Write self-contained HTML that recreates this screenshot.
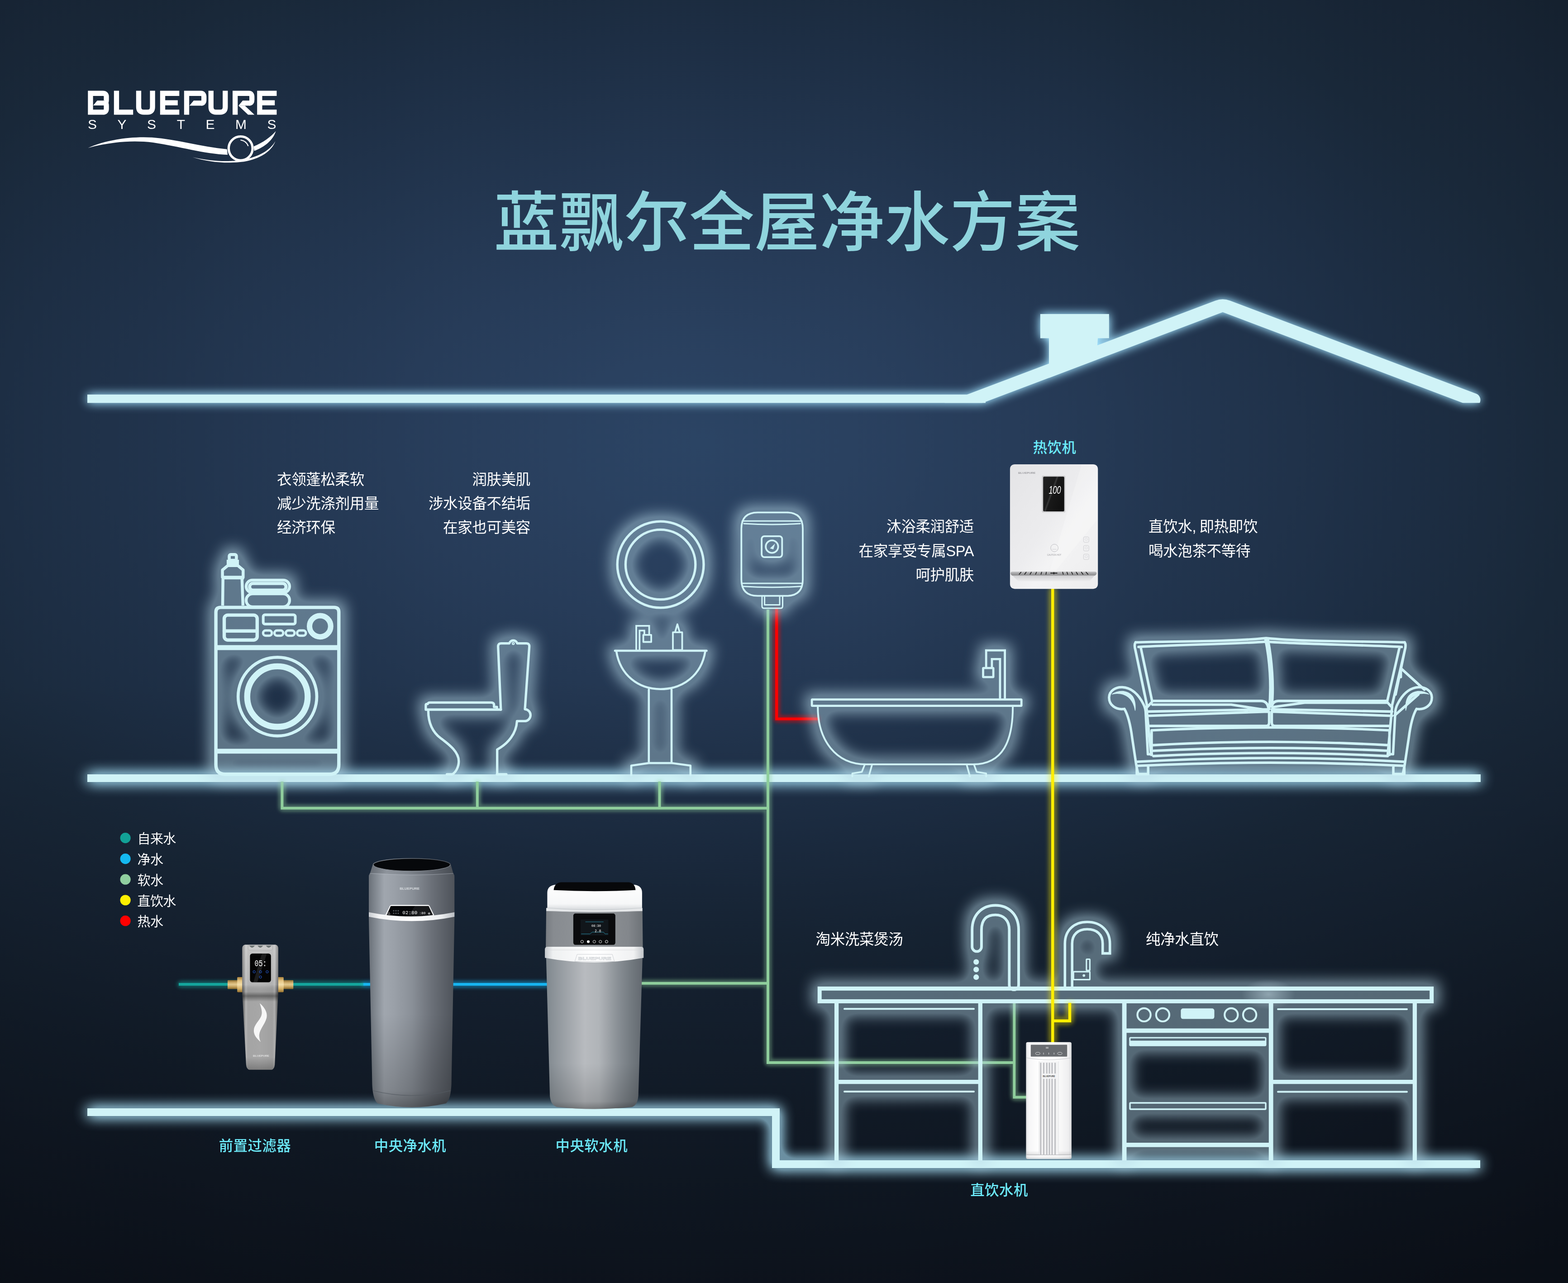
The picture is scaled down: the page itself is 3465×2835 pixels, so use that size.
<!DOCTYPE html>
<html lang="zh-CN">
<head>
<meta charset="utf-8">
<title>蓝飘尔全屋净水方案</title>
<style>
html,body{margin:0;padding:0;background:#101824;}
body{width:3465px;height:2835px;overflow:hidden;position:relative;font-family:"Liberation Sans","Noto Sans CJK SC",sans-serif;}
#bg{position:absolute;left:0;top:0;width:3465px;height:2835px;
 background:
  linear-gradient(to bottom, rgba(8,12,20,0) 0px, rgba(8,12,20,0) 1500px, rgba(8,12,20,0.30) 2300px, rgba(8,12,20,0.42) 2835px),
  radial-gradient(ellipse 3630px 2090px at 1550px 980px, #2b4464 0%, #2a4160 9%, #273c59 19%, #1d2e44 43%, #192839 54%, #172434 63%, #15212f 70%, #0f1620 91%, #0c1119 100%);}
svg.art{position:absolute;left:0;top:0;width:3465px;height:2835px;}
.t{position:absolute;white-space:nowrap;color:#fff;font-size:32.5px;letter-spacing:-0.35px;line-height:40px;height:40px;font-weight:400;margin:0;}
.r{text-align:right;}
.n{font-size:31.4px;letter-spacing:0.5px;color:#6ceaf9;font-weight:500;}
.lg{font-size:29px;letter-spacing:-0.6px;}
#title{position:absolute;left:1091px;top:394px;margin:0;font-size:144px;line-height:200px;height:200px;font-weight:500;color:#8fd4dd;white-space:nowrap;letter-spacing:0px;}
#sys{position:absolute;left:194px;top:257.5px;font-size:29px;line-height:34px;color:#fff;letter-spacing:44.3px;white-space:nowrap;transform-origin:0 0;transform:scaleX(1.03);}
.cm{display:inline-block;width:16px;text-align:left;}
</style>
</head>
<body>
<div id="bg"></div>
<svg class="art" width="3465" height="2835" viewBox="0 0 3465 2835">
<defs>
<filter id="gS" filterUnits="userSpaceOnUse" x="120" y="1640" width="3220" height="160" color-interpolation-filters="sRGB"><feFlood flood-color="#a4def5" result="c"/><feGaussianBlur in="SourceAlpha" stdDeviation="15.5" result="a0"/><feComponentTransfer in="a0" result="b0"><feFuncA type="table" tableValues="0 0.6 0.6 0.6"/></feComponentTransfer><feComposite in="c" in2="b0" operator="in" result="g0"/><feMerge><feMergeNode in="g0"/><feMergeNode in="SourceGraphic"/></feMerge></filter>
<filter id="gR" filterUnits="userSpaceOnUse" x="140" y="610" width="3190" height="340" color-interpolation-filters="sRGB"><feFlood flood-color="#9cdaf6" result="c"/><feGaussianBlur in="SourceAlpha" stdDeviation="11" result="a0"/><feComponentTransfer in="a0" result="b0"><feFuncA type="linear" slope="1.25"/></feComponentTransfer><feComposite in="c" in2="b0" operator="in" result="g0"/><feMerge><feMergeNode in="g0"/><feMergeNode in="SourceGraphic"/></feMerge></filter>
<filter id="gB" filterUnits="userSpaceOnUse" x="120" y="2380" width="3220" height="270" color-interpolation-filters="sRGB"><feFlood flood-color="#a8e0f6" result="c"/><feGaussianBlur in="SourceAlpha" stdDeviation="15.5" result="a0"/><feComponentTransfer in="a0" result="b0"><feFuncA type="table" tableValues="0 0.6 0.6 0.6"/></feComponentTransfer><feComposite in="c" in2="b0" operator="in" result="g0"/><feMerge><feMergeNode in="g0"/><feMergeNode in="SourceGraphic"/></feMerge></filter>
<filter id="gI" filterUnits="userSpaceOnUse" x="380" y="1070" width="2880" height="1590" color-interpolation-filters="sRGB"><feFlood flood-color="#b5d6e5" result="c"/><feMorphology in="SourceAlpha" operator="dilate" radius="11" result="m"/><feGaussianBlur in="m" stdDeviation="16" result="a"/><feComponentTransfer in="a" result="b"><feFuncA type="linear" slope="1.7"/></feComponentTransfer><feComponentTransfer in="b" result="o"><feFuncA type="linear" slope="0.42"/></feComponentTransfer><feComposite in="c" in2="o" operator="in" result="g"/><feMerge><feMergeNode in="g"/><feMergeNode in="SourceGraphic"/></feMerge></filter>
<filter id="gP" filterUnits="userSpaceOnUse" x="560" y="1290" width="1780" height="1200" color-interpolation-filters="sRGB"><feFlood flood-color="#8fce9c" result="c"/><feGaussianBlur in="SourceAlpha" stdDeviation="5" result="a0"/><feComponentTransfer in="a0" result="b0"><feFuncA type="linear" slope="4"/></feComponentTransfer><feGaussianBlur in="b0" stdDeviation="2.5" result="p0"/><feComponentTransfer in="p0" result="o0"><feFuncA type="linear" slope="0.38"/></feComponentTransfer><feComposite in="c" in2="o0" operator="in" result="g0"/><feMerge><feMergeNode in="g0"/><feMergeNode in="SourceGraphic"/></feMerge></filter>
<filter id="gPt" filterUnits="userSpaceOnUse" x="330" y="2120" width="540" height="110" color-interpolation-filters="sRGB"><feFlood flood-color="#14a59c" result="c"/><feGaussianBlur in="SourceAlpha" stdDeviation="5" result="a0"/><feComponentTransfer in="a0" result="b0"><feFuncA type="linear" slope="4"/></feComponentTransfer><feGaussianBlur in="b0" stdDeviation="2.5" result="p0"/><feComponentTransfer in="p0" result="o0"><feFuncA type="linear" slope="0.42"/></feComponentTransfer><feComposite in="c" in2="o0" operator="in" result="g0"/><feMerge><feMergeNode in="g0"/><feMergeNode in="SourceGraphic"/></feMerge></filter>
<filter id="gPb" filterUnits="userSpaceOnUse" x="740" y="2120" width="540" height="110" color-interpolation-filters="sRGB"><feFlood flood-color="#17b4f0" result="c"/><feGaussianBlur in="SourceAlpha" stdDeviation="5" result="a0"/><feComponentTransfer in="a0" result="b0"><feFuncA type="linear" slope="4"/></feComponentTransfer><feGaussianBlur in="b0" stdDeviation="2.5" result="p0"/><feComponentTransfer in="p0" result="o0"><feFuncA type="linear" slope="0.42"/></feComponentTransfer><feComposite in="c" in2="o0" operator="in" result="g0"/><feMerge><feMergeNode in="g0"/><feMergeNode in="SourceGraphic"/></feMerge></filter>
<filter id="gPy" filterUnits="userSpaceOnUse" x="2270" y="1250" width="160" height="1100" color-interpolation-filters="sRGB"><feFlood flood-color="#ffee00" result="c"/><feGaussianBlur in="SourceAlpha" stdDeviation="6" result="a0"/><feComponentTransfer in="a0" result="b0"><feFuncA type="linear" slope="4"/></feComponentTransfer><feGaussianBlur in="b0" stdDeviation="3" result="p0"/><feComponentTransfer in="p0" result="o0"><feFuncA type="linear" slope="0.36"/></feComponentTransfer><feComposite in="c" in2="o0" operator="in" result="g0"/><feMerge><feMergeNode in="g0"/><feMergeNode in="SourceGraphic"/></feMerge></filter>
<filter id="gPr" filterUnits="userSpaceOnUse" x="1670" y="1300" width="190" height="350" color-interpolation-filters="sRGB"><feFlood flood-color="#ff0000" result="c"/><feGaussianBlur in="SourceAlpha" stdDeviation="5" result="a0"/><feComponentTransfer in="a0" result="b0"><feFuncA type="linear" slope="4"/></feComponentTransfer><feGaussianBlur in="b0" stdDeviation="2.5" result="p0"/><feComponentTransfer in="p0" result="o0"><feFuncA type="linear" slope="0.4"/></feComponentTransfer><feComposite in="c" in2="o0" operator="in" result="g0"/><feMerge><feMergeNode in="g0"/><feMergeNode in="SourceGraphic"/></feMerge></filter>
<clipPath id="roofclip"><rect x="0" y="0" width="3465" height="890.3"/></clipPath>
</defs>
<g filter="url(#gR)" fill="#d0f3f7" stroke="none">
<rect x="193" y="871.8" width="1985" height="18.5"/>
<path clip-path="url(#roofclip)" d="M2040,908.5 L2686.1,664.2 A45,45 0 0 1 2717.9,664.2 L3262.2,870.0 A14.75,14.75 0 0 1 3251.8,897.6 L2702,689.8 L2040,940.0 Z"/>
<rect x="2298.8" y="693.9" width="152" height="53.5"/>
<polygon points="2318,747 2426,747 2423,795 2318,835"/>
</g>
<g filter="url(#gS)" fill="#d0f3f7" stroke="none">
<rect x="193" y="1711" width="3079" height="17"/>
</g>
<g filter="url(#gB)" fill="#d0f3f7" stroke="none">
<path d="M193,2449 H1723 V2563.8 H3271 V2581 H1706 V2466 H193 Z"/>
</g>
<g filter="url(#gPt)" fill="none" stroke="#14a59c" stroke-width="6.2" stroke-linecap="butt" stroke-linejoin="miter"><path d="M395,2175 H804"/></g>
<g filter="url(#gPb)" fill="none" stroke="#17b4f0" stroke-width="6.2" stroke-linecap="butt" stroke-linejoin="miter"><path d="M803,2175 H1212"/></g>
<g filter="url(#gP)" fill="none" stroke="#8fce9c" stroke-width="6" stroke-linecap="butt" stroke-linejoin="miter"><path d="M1416,2172.8 H1697 M1697,1347 V2351.1 M1694,2348.1 H2241.3 M2241.3,2216 V2427.5 M2238.3,2424.5 H2270 M620.4,1785.7 H1697 M623.4,1727 V1788.7 M1054.8,1727 V1785.7 M1457.5,1727 V1785.7"/></g>
<g filter="url(#gPr)" fill="none" stroke="#ff0000" stroke-width="6.2" stroke-linecap="butt" stroke-linejoin="miter"><path d="M1716.2,1345 V1591.6 M1713.1,1588.5 H1808"/></g>
<g filter="url(#gI)" fill="none" stroke="#d0f3f7" stroke-linejoin="round" stroke-linecap="round">
<path d="M477.1,1352.4Q477.1,1342.1 487.5,1342.1H738.5Q748.8,1342.1 748.8,1352.4V1689.6Q748.8,1710.7 728.8,1710.7H497.2Q477.1,1710.7 477.1,1689.6Z" stroke-width="7.4"/>
<path d="M477.1,1431.0H748.8" stroke-width="11.0" stroke-linecap="butt"/>
<path d="M477.1,1659.9H748.8" stroke-width="10.7" stroke-linecap="butt"/>
<circle cx="613.1" cy="1539.2" r="86.9" stroke-width="6.7"/>
<circle cx="613.1" cy="1539.2" r="66.8" stroke-width="13.4"/>
<rect x="495.5" y="1359.1" width="72.8" height="55.1" rx="8.0" stroke-width="7.4"/>
<path d="M495.5,1394.2H568.4" stroke-width="7.4"/>
<rect x="581.7" y="1358.4" width="70.8" height="20.7" rx="4.0" stroke-width="6.0"/>
<rect x="581.4" y="1393.2" width="19.4" height="11.4" rx="5.7" stroke-width="5.3"/>
<rect x="606.5" y="1393.2" width="19.4" height="11.4" rx="5.7" stroke-width="5.3"/>
<rect x="631.5" y="1393.2" width="19.4" height="11.4" rx="5.7" stroke-width="5.3"/>
<rect x="656.6" y="1393.2" width="19.4" height="11.4" rx="5.7" stroke-width="5.3"/>
<circle cx="707.4" cy="1383.8" r="23.4" stroke-width="12.0"/>
<rect x="506.6" y="1225.4" width="15.8" height="12.7" rx="3.4" stroke-width="6.7"/>
<rect x="500.9" y="1236.8" width="27.1" height="10.9" rx="0.6" fill="#d0f3f7" stroke="none"/>
<path d="M491.6,1275.4V1259.6L503.4,1249.7H525.6L537.3,1259.6V1275.4Z" stroke-width="6.5"/>
<path d="M489.8,1278.2H539.3" stroke-width="4.0" stroke-linecap="butt"/>
<path d="M492.7,1279.2L492.0,1338.1M534.8,1279.2L536.9,1338.1" stroke-width="6.5" stroke-linecap="butt"/>
<rect x="544.0" y="1281.9" width="95.9" height="27.7" rx="13.9" stroke-width="6.4"/>
<rect x="551.6" y="1289.1" width="80.4" height="15.0" rx="7.5" stroke-width="7.1"/>
<rect x="544.0" y="1312.0" width="95.9" height="29.0" rx="14.4" stroke-width="6.4"/>
<path d="M1106.8,1568.2L1100.7,1429.2Q1100.3,1421.6 1107.9,1421.6H1125.5A9.2,9.2 0 0 1 1143.0,1421.6H1162.7Q1170.3,1421.6 1169.7,1429.2L1160.0,1567.1A12.7,12.7 0 1 1 1158.3,1593.4H1142.5C1140.8,1620.8 1123.3,1642.7 1098.7,1656.2V1711.0" stroke-width="5.3"/>
<circle cx="1134.2" cy="1422.0" r="2.2" stroke-width="2.2"/>
<path d="M940.9,1568.0V1558.4Q940.9,1555.5 943.8,1555.5L945.1,1555.5Q946.0,1552.3 949.9,1552.3H1085.6Q1090.9,1552.3 1091.7,1556.9V1562.1H1098.1V1568.0M940.9,1568.0H1106.8" stroke-width="5.3"/>
<path d="M946.4,1570.4C946.4,1598.9 956.9,1618.6 974.4,1631.7C994.1,1645.9 1013.8,1662.4 1013.8,1682.1C1013.8,1695.2 1007.3,1706.1 999.6,1711.0H987.6M1098.1,1711.0H1118.9" stroke-width="5.3"/>
<circle cx="1459.6" cy="1247.5" r="95.4" stroke-width="5.3"/>
<circle cx="1459.6" cy="1247.5" r="77.2" stroke-width="5.3"/>
<path d="M1358.9,1437.9H1561.5M1362.0,1439.0C1370.3,1491.5 1410.2,1522.7 1459.6,1522.7C1509.8,1522.7 1550.1,1491.5 1558.5,1439.0M1433.8,1523.8V1686.1M1484.0,1523.8V1686.1M1395.0,1712.7V1691.8L1433.8,1686.1H1484.0L1525.8,1691.8V1712.7" stroke-width="4.6"/>
<path d="M1406.0,1436.4V1382.8H1434.6V1402.2M1413.3,1436.4V1393.4H1423.9V1402.2" stroke-width="3.8" stroke-linejoin="miter" stroke-linecap="butt"/>
<rect x="1421.6" y="1402.9" width="17.5" height="15.6" stroke-width="3.8"/>
<rect x="1487.0" y="1397.2" width="20.5" height="39.2" stroke-width="3.8"/>
<path d="M1491.9,1396.5L1496.9,1379.4L1501.8,1396.5" stroke-width="3.8"/>
<path d="M1638.3,1168.4Q1638.3,1132.3 1674.4,1132.3H1737.9Q1774.0,1132.3 1774.0,1168.4V1280.5Q1774.0,1316.7 1737.9,1316.7H1674.4Q1638.3,1316.7 1638.3,1280.5Z" stroke-width="3.8"/>
<path d="M1640.2,1151.3H1772.1M1644.0,1157.0Q1705.9,1160.8 1768.3,1157.0M1640.2,1288.9H1772.1M1642.1,1295.8Q1705.9,1299.6 1769.8,1295.8" stroke-width="3.0"/>
<rect x="1683.1" y="1184.8" width="45.2" height="46.4" rx="6.1" stroke-width="3.8"/>
<circle cx="1705.9" cy="1207.9" r="13.7" stroke-width="3.8"/>
<path d="M1701.4,1211.7L1712.8,1201.1L1709.0,1214.0Z" fill="#d0f3f7" stroke="none"/>
<path d="M1683.9,1317.4V1339.5Q1683.9,1344.0 1688.5,1344.0H1724.9Q1729.5,1344.0 1729.5,1339.5V1317.4M1689.6,1318.6V1336.4H1723.0V1318.6" stroke-width="3.0"/>
<rect x="1794.1" y="1545.7" width="463.1" height="14.0" rx="1.1" stroke-width="4.8"/>
<path d="M1807.2,1562.1C1807.2,1635.2 1846.7,1688.9 1913.9,1688.9H2150.2C2217.4,1688.9 2238.1,1635.2 2238.1,1562.1" stroke-width="4.0"/>
<path d="M1911.2,1688.9L1904.5,1705.6L1883.5,1709.1V1715.8M1927.3,1688.9L1919.8,1715.8M2136.0,1688.9L2143.5,1715.8M2152.1,1688.9L2158.3,1705.6L2179.2,1709.1V1715.8" stroke-width="3.8"/>
<path d="M2220.6,1543.3V1437.2H2179.2V1474.0M2209.9,1543.3V1456.3H2191.9V1474.0" stroke-width="4.8" stroke-linejoin="miter"/>
<rect x="2172.5" y="1476.2" width="22.6" height="19.9" rx="0.8" stroke-width="4.8"/>
<path d="M2509.4,1419.4C2593.2,1416.7 2709.1,1418.6 2798.0,1410.1C2886.9,1418.6 3002.8,1416.7 3104.1,1419.4M2515.9,1429.5C2600.9,1424.4 2716.9,1423.3 2798.0,1417.9C2879.2,1423.3 2995.1,1424.4 3097.5,1429.5M2509.4,1419.4Q2505.5,1424.4 2509.4,1438.0L2535.3,1561.6M2520.6,1429.5L2546.1,1550.0M2509.4,1438.0L2529.5,1534.6M3104.1,1419.4Q3107.9,1424.4 3104.1,1438.0L3075.5,1561.6M3092.9,1429.5L3065.4,1550.0M3104.1,1438.0L3084.0,1534.6M2796.1,1410.9C2805.8,1457.3 2810.4,1515.3 2804.6,1567.4M2801.9,1412.8C2810.4,1457.3 2815.4,1515.3 2810.4,1561.6M2536.0,1561.6L2547.6,1548.9H2786.4Q2800.0,1548.9 2802.7,1563.6M2810.4,1561.6Q2812.7,1548.9 2825.1,1548.9H3063.1L3074.7,1561.6M2546.8,1557.0H2720.7L2801.9,1569.4M2811.5,1562.4L2883.0,1552.7H3063.1M2535.3,1581.7L2801.9,1572.4M2810.4,1572.4L3076.3,1581.7M2535.3,1572.4L2801.9,1567.4M2810.4,1567.4L3076.3,1572.4M2539.1,1604.1H2798.0Q2804.6,1604.1 2804.6,1596.4V1573.2M2810.4,1573.2V1596.4Q2810.4,1604.1 2817.3,1604.1H3070.5M2544.9,1613.8Q2805.8,1601.0 3070.5,1613.8M2544.9,1613.8V1667.9M3070.5,1613.8V1667.9M2533.3,1561.6L2543.8,1667.9M3076.3,1561.6L3066.6,1667.9M2546.8,1646.6Q2805.8,1632.0 3068.5,1646.6M2548.8,1659.0Q2805.8,1646.6 3066.6,1659.0M2548.8,1670.6Q2805.8,1657.5 3066.6,1670.6M2512.1,1683.3Q2805.8,1666.7 3103.3,1683.3M2512.1,1692.2Q2805.8,1678.3 3103.3,1692.2M3095.6,1476.6L3147.7,1523.8M3095.6,1476.6V1495.9M3082.0,1580.9L3134.2,1534.6M2512.1,1692.2V1710.4M2537.2,1692.2V1710.4M3079.0,1692.2V1710.4M3103.3,1692.2V1710.4M2512.1,1710.4H2537.2M3079.0,1710.4H3103.3" stroke-width="5.6"/>
<g><path d="M2484.7,1566.4C2466.0,1569.3 2450.2,1557.8 2450.9,1540.5C2451.6,1526.1 2466.0,1517.7 2480.4,1518.6C2497.7,1519.6 2510.7,1529.0 2522.2,1547.7C2528.0,1557.8 2530.9,1563.6 2531.6,1572.2L2536.6,1666.6H2545.3M2484.7,1566.4C2493.4,1580.9 2499.2,1609.7 2502.0,1631.3L2510.7,1688.9L2515.0,1710.5" stroke-width="5.5"/><path d="M2457.4,1534.0C2473.2,1523.2 2492.0,1526.1 2502.0,1537.6C2507.8,1544.8 2510.0,1557.8 2508.5,1570.0C2506.4,1557.8 2502.0,1547.7 2493.4,1540.5C2483.3,1532.6 2468.9,1530.4 2457.4,1534.0Z" fill="#d0f3f7" stroke-width="1.2"/></g>
<g transform="translate(5615,0) scale(-1,1)"><path d="M2484.7,1566.4C2466.0,1569.3 2450.2,1557.8 2450.9,1540.5C2451.6,1526.1 2466.0,1517.7 2480.4,1518.6C2497.7,1519.6 2510.7,1529.0 2522.2,1547.7C2528.0,1557.8 2530.9,1563.6 2531.6,1572.2L2536.6,1666.6H2545.3M2484.7,1566.4C2493.4,1580.9 2499.2,1609.7 2502.0,1631.3L2510.7,1688.9L2515.0,1710.5" stroke-width="5.5"/><path d="M2457.4,1534.0C2473.2,1523.2 2492.0,1526.1 2502.0,1537.6C2507.8,1544.8 2510.0,1557.8 2508.5,1570.0C2506.4,1557.8 2502.0,1547.7 2493.4,1540.5C2483.3,1532.6 2468.9,1530.4 2457.4,1534.0Z" fill="#d0f3f7" stroke-width="1.2"/></g>
<rect x="1811.2" y="2184.4" width="1352.5" height="28.1" stroke-width="9" stroke-linecap="butt" stroke-linejoin="miter"/>
<path d="M1848.6,2217 V2564 M2166.3,2217 V2564 M1848.6,2390.6 H2166.3" stroke-width="9.3" stroke-linecap="butt" stroke-linejoin="miter"/>
<path d="M1866,2229.2 H2152 M1866,2412 H2152 M2824,2230 H3109 M2824,2412.6 H3109" stroke-width="4"/>
<path d="M2484.6,2217 V2564 M2808.7,2217 V2564 M2484.6,2277.4 H2808.7 M2484.6,2529.8 H2808.7" stroke-width="9.8" stroke-linecap="butt" stroke-linejoin="miter"/>
<circle cx="2528.1" cy="2242.4" r="14.6" stroke-width="4.2"/>
<circle cx="2569.4" cy="2242.4" r="14.6" stroke-width="4.2"/>
<circle cx="2720.8" cy="2242.4" r="14.6" stroke-width="4.2"/>
<circle cx="2761.6" cy="2242.4" r="14.6" stroke-width="4.2"/>
<rect x="2609.4" y="2228.3" width="74.1" height="23.3" rx="5" fill="#d0f3f7" stroke="none"/>
<rect x="2496.8" y="2293" width="300.2" height="17.2" rx="1.5" stroke-width="3"/>
<rect x="2497" y="2299.5" width="300" height="11.5" fill="#d0f3f7" stroke="none"/>
<rect x="2497" y="2437" width="300" height="14" rx="1.5" stroke-width="3.4"/>
<path d="M3126.4,2217 V2564 M2808.7,2390.6 H3126.4" stroke-width="9.3" stroke-linecap="butt" stroke-linejoin="miter"/>
<path d="M2148.2,2092.0A10.3,10.3 0 0 0 2168.9,2092.0V2054.6C2168.9,2030.9 2181.1,2021.6 2199.7,2021.6C2218.4,2021.6 2230.3,2034.3 2230.3,2054.6V2176.8A10.3,10.3 0 0 0 2251.0,2176.8V2054.6C2251.0,2020.7 2228.6,2000.5 2199.7,2000.5C2170.9,2000.5 2148.2,2020.7 2148.2,2054.6Z" stroke-width="5.9"/>
<circle cx="2157.2" cy="2125.6" r="6.1" fill="#d0f3f7" stroke="none"/>
<circle cx="2157.2" cy="2142.4" r="6.1" fill="#d0f3f7" stroke="none"/>
<circle cx="2157.2" cy="2159.2" r="6.1" fill="#d0f3f7" stroke="none"/>
<path d="M2353.3,2179.9V2085.2C2353.3,2054.6 2374.5,2037.3 2402.5,2037.3C2432.2,2037.3 2452.7,2056.3 2452.7,2085.2V2106.6H2436.7V2085.2C2436.7,2064.8 2423.7,2053.3 2402.5,2053.3C2382.1,2053.3 2369.2,2064.8 2369.2,2085.2V2179.9" stroke-width="5.6" stroke-linejoin="miter" stroke-linecap="butt"/>
<rect x="2400.8" y="2119.5" width="7.6" height="24.8" rx="1.0" stroke-width="3.1"/>
<rect x="2372.3" y="2147.1" width="36.1" height="17.5" rx="0.7" stroke-width="3.1"/>
<circle cx="2395.2" cy="2155.6" r="2.9" fill="#d0f3f7" stroke="none"/>
</g>
<g filter="url(#gPy)" fill="none" stroke="#ffee00" stroke-width="6.4" stroke-linecap="butt" stroke-linejoin="miter"><path d="M2326.2,1300 V2305 M2326,2255.7 H2367 M2364,2216 V2258.9"/></g>
<radialGradient id="hl" cx="0.5" cy="0.5" r="0.5"><stop offset="0" stop-color="#dff6ff" stop-opacity="0.42"/><stop offset="1" stop-color="#dff6ff" stop-opacity="0"/></radialGradient>
<ellipse cx="2803" cy="2197" rx="60" ry="34" fill="url(#hl)"/>
<g>
<linearGradient id="pfB" x1="0" y1="0" x2="1" y2="0"><stop offset="0" stop-color="#5e5e5e"/><stop offset="0.05" stop-color="#7e7e7e"/><stop offset="0.1" stop-color="#b4b4b4"/><stop offset="0.16" stop-color="#a4a4a4"/><stop offset="0.5" stop-color="#a7a7a7"/><stop offset="0.84" stop-color="#a0a0a0"/><stop offset="0.9" stop-color="#b0b0b0"/><stop offset="0.95" stop-color="#7c7c7c"/><stop offset="1" stop-color="#555"/></linearGradient>
<linearGradient id="pfV" x1="0" y1="0" x2="0" y2="1"><stop offset="0" stop-color="#fff" stop-opacity="0.35"/><stop offset="0.32" stop-color="#fff" stop-opacity="0.18"/><stop offset="0.375" stop-color="#000" stop-opacity="0.05"/><stop offset="0.41" stop-color="#000" stop-opacity="0.38"/><stop offset="0.455" stop-color="#000" stop-opacity="0.0"/><stop offset="0.9" stop-color="#000" stop-opacity="0"/><stop offset="1" stop-color="#000" stop-opacity="0.25"/></linearGradient>
<linearGradient id="brH" x1="0" y1="0" x2="0" y2="1"><stop offset="0" stop-color="#a8803a"/><stop offset="0.25" stop-color="#e6c684"/><stop offset="0.5" stop-color="#f3deaa"/><stop offset="0.75" stop-color="#d9b66e"/><stop offset="1" stop-color="#9a7430"/></linearGradient>
<linearGradient id="brT" x1="0" y1="0" x2="0" y2="1"><stop offset="0" stop-color="#8e6c2e"/><stop offset="0.3" stop-color="#d9b877"/><stop offset="0.5" stop-color="#ecd49a"/><stop offset="0.75" stop-color="#c9a660"/><stop offset="1" stop-color="#86652a"/></linearGradient>
<rect x="503.0" y="2165.7" width="22.6" height="19.8" rx="1.2" fill="url(#brT)"/>
<rect x="626.0" y="2165.7" width="22.2" height="19.8" rx="1.2" fill="url(#brT)"/>
<path d="M505.4,2166.1V2185.1" stroke="#8a6a30" stroke-width="0.5" opacity="0.6"/>
<path d="M508.2,2166.1V2185.1" stroke="#8a6a30" stroke-width="0.5" opacity="0.6"/>
<path d="M511.0,2166.1V2185.1" stroke="#8a6a30" stroke-width="0.5" opacity="0.6"/>
<path d="M513.9,2166.1V2185.1" stroke="#8a6a30" stroke-width="0.5" opacity="0.6"/>
<path d="M516.7,2166.1V2185.1" stroke="#8a6a30" stroke-width="0.5" opacity="0.6"/>
<path d="M519.5,2166.1V2185.1" stroke="#8a6a30" stroke-width="0.5" opacity="0.6"/>
<path d="M522.3,2166.1V2185.1" stroke="#8a6a30" stroke-width="0.5" opacity="0.6"/>
<path d="M628.4,2166.1V2185.1" stroke="#8a6a30" stroke-width="0.5" opacity="0.6"/>
<path d="M631.2,2166.1V2185.1" stroke="#8a6a30" stroke-width="0.5" opacity="0.6"/>
<path d="M634.0,2166.1V2185.1" stroke="#8a6a30" stroke-width="0.5" opacity="0.6"/>
<path d="M636.9,2166.1V2185.1" stroke="#8a6a30" stroke-width="0.5" opacity="0.6"/>
<path d="M639.7,2166.1V2185.1" stroke="#8a6a30" stroke-width="0.5" opacity="0.6"/>
<path d="M642.5,2166.1V2185.1" stroke="#8a6a30" stroke-width="0.5" opacity="0.6"/>
<path d="M645.3,2166.1V2185.1" stroke="#8a6a30" stroke-width="0.5" opacity="0.6"/>
<rect x="524.2" y="2158.9" width="13.5" height="33.5" rx="1.6" fill="url(#brH)"/>
<rect x="613.5" y="2158.9" width="13.3" height="33.5" rx="1.6" fill="url(#brH)"/>
<path d="M535.2,2096.0Q535.2,2088.7 541.3,2087.5H608.8Q614.9,2088.7 614.9,2096.0V2191.1L607.2,2352.4Q606.2,2362.5 600.2,2363.7H551.0Q544.9,2362.5 543.9,2352.4L535.2,2191.1Z" fill="url(#pfB)"/>
<path d="M535.2,2096.0Q535.2,2088.7 541.3,2087.5H608.8Q614.9,2088.7 614.9,2096.0V2191.1L607.2,2352.4Q606.2,2362.5 600.2,2363.7H551.0Q544.9,2362.5 543.9,2352.4L535.2,2191.1Z" fill="url(#pfV)"/>
<path d="M548.3,2089.5H602.2V2096.0Q602.2,2099.6 598.5,2099.6H552.0Q548.3,2099.6 548.3,2096.0Z" fill="#c9c9c9" stroke="#9a9a9a" stroke-width="0.5"/>
<path d="M551.0,2089.5Q557.0,2098.4 563.1,2089.5Z" fill="#6d7474"/>
<path d="M569.1,2089.5Q575.2,2098.4 581.2,2089.5Z" fill="#6d7474"/>
<path d="M587.7,2089.5Q593.7,2098.4 599.8,2089.5Z" fill="#6d7474"/>
<rect x="552.4" y="2106.9" width="46.4" height="63.7" rx="5.6" fill="#040404"/>
<path d="M578.6,2107.3H589.7L568.5,2170.2H560.0Z" fill="#fff" opacity="0.10"/>
<text x="562.5" y="2135.1" font-family="Liberation Mono, monospace" font-size="21" fill="#fff" textLength="27" lengthAdjust="spacingAndGlyphs">05:</text>
<circle cx="561.7" cy="2147.4" r="2.6" fill="none" stroke="#2a6cff" stroke-width="0.9"/>
<circle cx="575.6" cy="2147.4" r="2.6" fill="none" stroke="#2a6cff" stroke-width="0.9"/>
<circle cx="590.3" cy="2147.4" r="2.6" fill="none" stroke="#2a6cff" stroke-width="0.9"/>
<circle cx="575.6" cy="2158.9" r="2.6" fill="none" stroke="#2a6cff" stroke-width="0.9"/>
<path d="M574.2,2216.9C584.0,2225.0 592.1,2237.5 589.1,2249.2C585.0,2264.1 574.0,2274.2 572.9,2286.3C572.3,2293.1 574.6,2299.2 576.0,2302.4C567.5,2295.2 559.0,2285.9 561.2,2273.8C564.1,2259.7 578.6,2251.6 578.6,2237.5C578.6,2229.4 575.6,2222.6 574.2,2216.9Z" fill="#f7f7f7"/>
<text x="559.0" y="2335.3" font-family="Liberation Sans, sans-serif" font-weight="700" font-size="5.6" fill="#e0e0e0" textLength="36" lengthAdjust="spacingAndGlyphs">BLUEPURE</text>
<linearGradient id="cpB" x1="0" y1="0" x2="1" y2="0"><stop offset="0" stop-color="#6a7078"/><stop offset="0.06" stop-color="#7c838b"/><stop offset="0.18" stop-color="#a0a6ae"/><stop offset="0.3" stop-color="#9aa0a8"/><stop offset="0.5" stop-color="#8a9098"/><stop offset="0.75" stop-color="#696e76"/><stop offset="1" stop-color="#4e535a"/></linearGradient>
<linearGradient id="cpN" x1="0" y1="0" x2="1" y2="0"><stop offset="0" stop-color="#656b73"/><stop offset="0.08" stop-color="#747a82"/><stop offset="0.2" stop-color="#8f959d"/><stop offset="0.45" stop-color="#80868e"/><stop offset="0.75" stop-color="#61666e"/><stop offset="1" stop-color="#484d54"/></linearGradient>
<linearGradient id="cpV" x1="0" y1="0" x2="0" y2="1"><stop offset="0" stop-color="#000" stop-opacity="0"/><stop offset="0.6" stop-color="#000" stop-opacity="0"/><stop offset="0.93" stop-color="#000" stop-opacity="0.18"/><stop offset="1" stop-color="#000" stop-opacity="0.38"/></linearGradient>
<linearGradient id="cpW" x1="0" y1="0" x2="1" y2="0"><stop offset="0" stop-color="#c9ccd0"/><stop offset="0.12" stop-color="#f4f5f6"/><stop offset="0.5" stop-color="#ffffff"/><stop offset="0.85" stop-color="#eceef0"/><stop offset="1" stop-color="#b9bdc2"/></linearGradient>
<path d="M817.1,1931.4L823.9,1910.0A84.6,13.6 0 0 1 996.1,1910.0L1002.1,1931.4Q910.0,1939.3 817.1,1931.4Z" fill="url(#cpN)"/>
<path d="M815.0,1936.8Q815.0,1930.0 821.4,1928.6Q910.0,1935.7 997.9,1928.6Q1004.3,1930.0 1004.3,1936.8L1004.3,2031.4L997.5,2395.7Q996.4,2427.9 985.7,2437.9Q910.0,2455.7 834.3,2437.9Q823.6,2427.9 822.5,2395.7L815.0,2031.4Z" fill="url(#cpB)"/>
<path d="M815.0,1936.8Q815.0,1930.0 821.4,1928.6Q910.0,1935.7 997.9,1928.6Q1004.3,1930.0 1004.3,1936.8L1004.3,2031.4L997.5,2395.7Q996.4,2427.9 985.7,2437.9Q910.0,2455.7 834.3,2437.9Q823.6,2427.9 822.5,2395.7L815.0,2031.4Z" fill="url(#cpV)"/>
<path d="M817.1,1930.0Q910.0,1937.1 1002.1,1930.0" fill="none" stroke="#b4bac2" stroke-width="1" opacity="0.55"/>
<ellipse cx="910.0" cy="1911.1" rx="84.6" ry="13.6" fill="#06080b"/>
<path d="M825.4,1911.1A84.6,13.6 0 0 0 994.6,1911.1" fill="none" stroke="#8d939b" stroke-width="1.1"/>
<path d="M824.3,2410.0Q910.0,2431.4 995.7,2410.0" fill="none" stroke="#565b62" stroke-width="1.5" opacity="0.7"/>
<path d="M815.0,2015.7Q910.0,2034.6 1004.3,2015.7L1004.3,2025.7Q910.0,2045.0 815.0,2025.7Z" fill="url(#cpW)"/>
<path d="M851.1,2022.5L861.4,2001.8Q862.5,1999.6 865.0,1999.6H945.7Q948.2,1999.6 949.3,2001.8L959.6,2022.5Q910.0,2032.1 851.1,2022.5Z" fill="#f6f7f8"/>
<path d="M854.5,2021.9L863.5,2002.1H947.2L956.8,2021.9Q910.0,2027.9 854.5,2021.9Z" fill="#050608"/>
<path d="M917.1,2002.1H947.2L956.8,2021.9Q931.4,2025.0 901.1,2025.0Z" fill="#fff" opacity="0.08"/>
<text x="889.3" y="2019.6" font-family="Liberation Mono, monospace" font-size="11.5" fill="#fff" textLength="33" lengthAdjust="spacingAndGlyphs">02:80</text>
<text x="926.4" y="2019.6" font-family="Liberation Mono, monospace" font-size="8" fill="#fff" textLength="14" lengthAdjust="spacingAndGlyphs">:80</text>
<circle cx="948.2" cy="2018.6" r="1.6" fill="none" stroke="#fff" stroke-width="1.1"/>
<path d="M857.1,2020.4L859.6,2015.7L862.1,2020.4Z" fill="none" stroke="#fff" stroke-width="0.6"/>
<circle cx="870.0" cy="2012.5" r="1.1" fill="none" stroke="#cfd6dc" stroke-width="0.5"/>
<circle cx="875.0" cy="2012.5" r="1.1" fill="none" stroke="#cfd6dc" stroke-width="0.5"/>
<circle cx="880.0" cy="2012.5" r="1.1" fill="none" stroke="#cfd6dc" stroke-width="0.5"/>
<circle cx="870.0" cy="2018.2" r="1.1" fill="none" stroke="#cfd6dc" stroke-width="0.5"/>
<circle cx="875.0" cy="2018.2" r="1.1" fill="none" stroke="#cfd6dc" stroke-width="0.5"/>
<circle cx="880.0" cy="2018.2" r="1.1" fill="none" stroke="#cfd6dc" stroke-width="0.5"/>
<text x="883.2" y="1966.4" font-family="Liberation Sans, sans-serif" font-weight="700" font-size="6.4" fill="#d6dade" textLength="44" lengthAdjust="spacingAndGlyphs">BLUEPURE</text>
<linearGradient id="soB" x1="0" y1="0" x2="1" y2="0"><stop offset="0" stop-color="#7f878d"/><stop offset="0.08" stop-color="#8c9399"/><stop offset="0.4" stop-color="#b8bbbf"/><stop offset="0.55" stop-color="#b0b4b8"/><stop offset="0.75" stop-color="#888e94"/><stop offset="0.9" stop-color="#70777d"/><stop offset="1" stop-color="#636970"/></linearGradient>
<linearGradient id="soU" x1="0" y1="0" x2="1" y2="0"><stop offset="0" stop-color="#787d82"/><stop offset="0.08" stop-color="#878b90"/><stop offset="0.45" stop-color="#919599"/><stop offset="0.85" stop-color="#83878c"/><stop offset="1" stop-color="#6d7277"/></linearGradient>
<linearGradient id="soV" x1="0" y1="0" x2="0" y2="1"><stop offset="0" stop-color="#000" stop-opacity="0"/><stop offset="0.7" stop-color="#000" stop-opacity="0"/><stop offset="0.95" stop-color="#000" stop-opacity="0.15"/><stop offset="1" stop-color="#000" stop-opacity="0.35"/></linearGradient>
<linearGradient id="soW" x1="0" y1="0" x2="1" y2="0"><stop offset="0" stop-color="#c3c7cb"/><stop offset="0.08" stop-color="#eef0f1"/><stop offset="0.5" stop-color="#ffffff"/><stop offset="0.9" stop-color="#f0f1f2"/><stop offset="1" stop-color="#c0c4c8"/></linearGradient>
<linearGradient id="soL" x1="0" y1="0" x2="0" y2="1"><stop offset="0" stop-color="#ffffff"/><stop offset="0.75" stop-color="#f6f7f8"/><stop offset="1" stop-color="#d4d7da"/></linearGradient>
<path d="M1206.8,2113.8L1215.1,2421.2Q1216.8,2441.2 1230.2,2445.9Q1313.7,2455.2 1397.2,2445.9Q1408.9,2441.2 1410.6,2421.2L1419.9,2113.8Z" fill="url(#soB)"/>
<path d="M1206.8,2113.8L1215.1,2421.2Q1216.8,2441.2 1230.2,2445.9Q1313.7,2455.2 1397.2,2445.9Q1408.9,2441.2 1410.6,2421.2L1419.9,2113.8Z" fill="url(#soV)"/>
<path d="M1207.1,2006.9H1419.6L1420.6,2097.1H1206.1Z" fill="url(#soU)"/>
<path d="M1204.1,2097.8Q1204.1,2092.1 1210.1,2092.1H1416.6Q1422.3,2092.1 1422.3,2097.8V2116.5Q1313.7,2136.5 1204.1,2116.5Z" fill="url(#soW)"/>
<path d="M1204.8,2099.1H1421.6" stroke="#d5d8db" stroke-width="0.8" fill="none"/>
<path d="M1275.3,2108.8H1353.1L1357.8,2124.5H1270.2Z" fill="none" stroke="#c9cdd1" stroke-width="0.9"/>
<text x="1277.6" y="2120.5" font-family="Liberation Sans, sans-serif" font-weight="700" font-size="9.5" fill="none" stroke="#b9bec3" stroke-width="0.5" textLength="73" lengthAdjust="spacingAndGlyphs">BLUEPURE</text>
<rect x="1266.9" y="2018.6" width="92.9" height="69.2" rx="4.7" fill="#0a0b0d"/>
<rect x="1282.9" y="2032.0" width="61.5" height="35.1" rx="1.3" fill="#11161b"/>
<path d="M1284.3,2063.7H1303.7L1308.7,2059.7H1333.7L1337.1,2063.7H1343.7" fill="none" stroke="#2fb6d8" stroke-width="0.7"/>
<path d="M1293.6,2037.0H1333.7" fill="none" stroke="#2fb6d8" stroke-width="0.7"/>
<text x="1307.0" y="2048.0" font-family="Liberation Mono, monospace" font-size="8" fill="#fff" textLength="21" lengthAdjust="spacingAndGlyphs">08:30</text>
<text x="1314.3" y="2059.7" font-family="Liberation Mono, monospace" font-size="9.5" fill="#fff" textLength="14" lengthAdjust="spacingAndGlyphs">2.8</text>
<circle cx="1286.3" cy="2080.7" r="3.0" fill="none" stroke="#fff" stroke-width="1"/>
<circle cx="1300.0" cy="2080.7" r="3.0" fill="#fff"/>
<circle cx="1313.3" cy="2080.7" r="3.0" fill="none" stroke="#fff" stroke-width="0.9"/>
<circle cx="1326.7" cy="2080.7" r="3.0" fill="none" stroke="#fff" stroke-width="0.9"/>
<circle cx="1340.4" cy="2080.7" r="3.0" fill="none" stroke="#fff" stroke-width="1"/>
<path d="M1207.1,2006.2H1419.6V2012.9Q1313.7,2017.6 1207.1,2012.9Z" fill="#e6e8ea"/>
<path d="M1207.1,2013.3Q1313.7,2017.9 1419.6,2013.3" fill="none" stroke="#9a9ea3" stroke-width="0.8"/>
<path d="M1209.4,2007.6V1972.8Q1209.4,1957.5 1226.8,1955.1H1402.2Q1418.9,1957.5 1418.9,1972.8V2007.6Q1313.7,2015.3 1209.4,2007.6Z" fill="url(#soL)"/>
<path d="M1209.4,2006.2Q1313.7,2014.3 1418.9,2006.2" fill="none" stroke="#c5c9cd" stroke-width="0.8"/>
<path d="M1223.5,1966.8Q1224.8,1950.8 1240.2,1949.4H1388.8Q1403.2,1950.8 1404.5,1966.8Q1313.7,1971.5 1223.5,1966.8Z" fill="#07080a"/>
<linearGradient id="dwB" x1="0" y1="0" x2="1" y2="0"><stop offset="0" stop-color="#e2e3e5"/><stop offset="0.06" stop-color="#f6f6f7"/><stop offset="0.3" stop-color="#ffffff"/><stop offset="0.7" stop-color="#fbfbfb"/><stop offset="0.94" stop-color="#eeeeef"/><stop offset="1" stop-color="#d6d7d9"/></linearGradient>
<linearGradient id="dwV" x1="0" y1="0" x2="0" y2="1"><stop offset="0" stop-color="#000" stop-opacity="0"/><stop offset="0.93" stop-color="#000" stop-opacity="0"/><stop offset="0.965" stop-color="#000" stop-opacity="0.1"/><stop offset="0.975" stop-color="#fff" stop-opacity="0.2"/><stop offset="1" stop-color="#000" stop-opacity="0.06"/></linearGradient>
<rect x="2267.4" y="2302.7" width="100.5" height="258.1" rx="3.5" fill="url(#dwB)"/>
<rect x="2267.4" y="2302.7" width="100.5" height="258.1" rx="3.5" fill="url(#dwV)"/>
<path d="M2268.1,2337.4Q2317.6,2346.3 2367.1,2337.4" fill="none" stroke="#d2d3d6" stroke-width="1.2"/>
<rect x="2277.8" y="2308.5" width="80.4" height="26.3" rx="1.2" fill="#696c70"/>
<text x="2311.0" y="2317.4" font-family="Liberation Mono, monospace" font-size="5" fill="#fff">88</text>
<ellipse cx="2293.3" cy="2327.8" rx="5.0" ry="2.7" fill="none" stroke="#fff" stroke-width="0.7"/>
<ellipse cx="2342.0" cy="2327.8" rx="5.0" ry="2.7" fill="none" stroke="#fff" stroke-width="0.7"/>
<path d="M2306.0,2325.9V2330.1" stroke="#fff" stroke-width="0.8"/>
<path d="M2317.6,2325.9V2330.1" stroke="#fff" stroke-width="0.8"/>
<path d="M2329.2,2325.9V2330.1" stroke="#fff" stroke-width="0.8"/>
<rect x="2296.0" y="2345.2" width="43.3" height="207.5" fill="#f4f4f5"/>
<path d="M2300.1,2348.3V2551.9" stroke="#c2c3c7" stroke-width="2.6"/>
<path d="M2298.9,2348.3V2551.9" stroke="#a9aaae" stroke-width="0.7"/>
<path d="M2306.8,2348.3V2551.9" stroke="#c2c3c7" stroke-width="2.6"/>
<path d="M2305.6,2348.3V2551.9" stroke="#a9aaae" stroke-width="0.7"/>
<path d="M2313.5,2348.3V2551.9" stroke="#c2c3c7" stroke-width="2.6"/>
<path d="M2312.3,2348.3V2551.9" stroke="#a9aaae" stroke-width="0.7"/>
<path d="M2319.3,2348.3V2551.9" stroke="#c2c3c7" stroke-width="2.6"/>
<path d="M2318.1,2348.3V2551.9" stroke="#a9aaae" stroke-width="0.7"/>
<path d="M2325.2,2348.3V2551.9" stroke="#c2c3c7" stroke-width="2.6"/>
<path d="M2324.0,2348.3V2551.9" stroke="#a9aaae" stroke-width="0.7"/>
<path d="M2331.9,2348.3V2551.9" stroke="#c2c3c7" stroke-width="2.6"/>
<path d="M2330.7,2348.3V2551.9" stroke="#a9aaae" stroke-width="0.7"/>
<path d="M2296.0,2345.2V2552.7M2339.2,2345.2V2552.7" stroke="#dcdde0" stroke-width="0.8"/>
<path d="M2268.9,2551.9H2366.3" stroke="#b9babd" stroke-width="1.4"/>
<path d="M2268.9,2553.5H2366.3" stroke="#fff" stroke-width="1" opacity="0.8"/>
<rect x="2302.2" y="2372.2" width="31.7" height="11.6" fill="#f3f3f4"/>
<text x="2304.5" y="2379.6" font-family="Liberation Sans, sans-serif" font-weight="700" font-size="4.6" fill="#444" textLength="27" lengthAdjust="spacingAndGlyphs">BLUEPURE</text>
<linearGradient id="hwB" x1="0" y1="0" x2="1" y2="1"><stop offset="0" stop-color="#e4e4e6"/><stop offset="0.45" stop-color="#ececee"/><stop offset="0.62" stop-color="#f3f3f4"/><stop offset="1" stop-color="#ededee"/></linearGradient>
<linearGradient id="hwD" x1="0" y1="0" x2="1" y2="0.6"><stop offset="0" stop-color="#222"/><stop offset="0.45" stop-color="#1b1b1b"/><stop offset="0.5" stop-color="#3a3a3a"/><stop offset="0.55" stop-color="#191919"/><stop offset="1" stop-color="#111"/></linearGradient>
<linearGradient id="hwT" x1="0" y1="0" x2="0" y2="1"><stop offset="0" stop-color="#c9c9cb"/><stop offset="0.5" stop-color="#a2a2a4"/><stop offset="1" stop-color="#8a8a8c"/></linearGradient>
<linearGradient id="hwU" x1="0" y1="0" x2="0" y2="1"><stop offset="0" stop-color="#cfcfd2"/><stop offset="1" stop-color="#ededee"/></linearGradient>
<rect x="2231.9" y="1025.9" width="194.3" height="275.3" rx="10.1" fill="url(#hwB)"/>
<path d="M2390.1,1026.6H2416.3Q2425.7,1027.0 2425.7,1036.4V1146.9L2333.2,1260.7H2320.0Z" fill="#fff" opacity="0.22"/>
<rect x="2302.5" y="1051.1" width="51.9" height="81.4" rx="3.1" fill="#000" opacity="0.12"/>
<rect x="2305.2" y="1053.3" width="46.6" height="76.6" rx="2.2" fill="url(#hwD)"/>
<text x="2317.4" y="1091.1" font-family="Liberation Sans, sans-serif" font-style="italic" font-size="23" fill="#fff" textLength="27" lengthAdjust="spacingAndGlyphs">100</text>
<text x="2250.0" y="1046.9" font-family="Liberation Sans, sans-serif" font-weight="700" font-size="5.4" fill="#9a9a9e" textLength="38.5" lengthAdjust="spacingAndGlyphs">BLUEPURE</text>
<circle cx="2330.1" cy="1210.8" r="8.3" fill="none" stroke="#b9b9bd" stroke-width="0.9"/>
<path d="M2324.9,1213.7H2335.4" stroke="#c4c4c8" stroke-width="0.7"/>
<text x="2313.9" y="1227.5" font-family="Liberation Sans, sans-serif" font-size="4.6" fill="#9c9ca0" textLength="31.5" lengthAdjust="spacingAndGlyphs">CAUTION HOT</text>
<rect x="2394.4" y="1186.3" width="11.8" height="12.0" rx="2.6" fill="none" stroke="#c6c6ca" stroke-width="0.8"/>
<rect x="2397.7" y="1189.4" width="5.3" height="4.4" rx="1.1" fill="none" stroke="#cfcfd3" stroke-width="0.6"/>
<rect x="2394.4" y="1205.4" width="11.8" height="12.0" rx="2.6" fill="none" stroke="#c6c6ca" stroke-width="0.8"/>
<rect x="2397.7" y="1208.4" width="5.3" height="4.4" rx="1.1" fill="none" stroke="#cfcfd3" stroke-width="0.6"/>
<rect x="2394.4" y="1224.4" width="11.8" height="12.0" rx="2.6" fill="none" stroke="#c6c6ca" stroke-width="0.8"/>
<rect x="2397.7" y="1227.5" width="5.3" height="4.4" rx="1.1" fill="none" stroke="#cfcfd3" stroke-width="0.6"/>
<path d="M2237.3,1271.7H2418.9L2407.6,1284.4H2250.5Z" fill="url(#hwU)"/>
<path d="M2233.2,1266.6Q2233.2,1262.9 2237.3,1262.9H2419.2Q2423.3,1262.9 2423.3,1266.6Q2423.3,1269.9 2419.8,1271.7H2236.5Q2233.2,1269.9 2233.2,1266.6Z" fill="url(#hwT)"/>
<path d="M2252.2,1269.0L2256.4,1264.2" stroke="#111" stroke-width="1.5" stroke-linecap="round"/>
<path d="M2264.2,1269.0L2267.7,1264.2" stroke="#111" stroke-width="1.5" stroke-linecap="round"/>
<path d="M2276.3,1269.0L2279.1,1264.2" stroke="#111" stroke-width="1.5" stroke-linecap="round"/>
<path d="M2288.3,1269.0L2290.5,1264.2" stroke="#111" stroke-width="1.5" stroke-linecap="round"/>
<path d="M2300.4,1269.0L2301.9,1264.2" stroke="#111" stroke-width="1.5" stroke-linecap="round"/>
<path d="M2311.3,1269.0L2312.2,1264.2" stroke="#111" stroke-width="1.5" stroke-linecap="round"/>
<path d="M2349.6,1269.0L2348.3,1264.2" stroke="#111" stroke-width="1.5" stroke-linecap="round"/>
<path d="M2359.4,1269.0L2357.7,1264.2" stroke="#111" stroke-width="1.5" stroke-linecap="round"/>
<path d="M2370.4,1269.0L2368.0,1264.2" stroke="#111" stroke-width="1.5" stroke-linecap="round"/>
<path d="M2381.3,1269.0L2378.2,1264.2" stroke="#111" stroke-width="1.5" stroke-linecap="round"/>
<path d="M2393.3,1269.0L2389.6,1264.2" stroke="#111" stroke-width="1.5" stroke-linecap="round"/>
<path d="M2404.3,1269.0L2399.9,1264.2" stroke="#111" stroke-width="1.5" stroke-linecap="round"/>
<path d="M2321.1,1266.4H2336.5M2328.8,1264.2V1269.0" stroke="#111" stroke-width="1.6"/>
</g>
<circle cx="277.1" cy="1851.6" r="11.6" fill="#12a196"/>
<circle cx="277.1" cy="1897.6" r="11.6" fill="#14b9f0"/>
<circle cx="277.1" cy="1943.2" r="11.6" fill="#90cf9f"/>
<circle cx="277.1" cy="1989" r="11.6" fill="#fff000"/>
<circle cx="277.1" cy="2034.7" r="11.6" fill="#ff0000"/>
<g transform="translate(194.3,200.6)" fill="none" stroke="#fff" stroke-width="11.3" stroke-linejoin="miter" stroke-linecap="butt">
<path transform="translate(0,0)" d="M5.65,0 V53.0 M0,5.65 H33 Q40.75,5.65 40.75,13 V20 Q40.75,26.8 37,26.8 Q40.75,26.8 40.75,33.5 V40 Q40.75,47.35 33,47.35 H0"/>
<path transform="translate(57.5,0)" d="M5.65,0 V47.35 H42.4"/>
<path transform="translate(106.5,0)" d="M5.65,0 V36 Q5.65,47.35 17,47.35 H25 Q36.25,47.35 36.25,36 V0"/>
<path transform="translate(159.5,0)" d="M42.4,5.65 H5.65 V47.35 H42.4 M5.65,26.5 H39"/>
<path transform="translate(212.5,0)" d="M5.65,53.0 V5.65 H37 Q43.85,5.65 43.85,14 V20 Q43.85,27.35 38,27.35"/>
<path transform="translate(266.3,0)" d="M5.65,0 V36 Q5.65,47.35 17,47.35 H25.8 Q37.15,47.35 37.15,36 V0"/>
<path transform="translate(319.7,0)" d="M5.65,53.0 V5.65 H36 Q42.65,5.65 42.65,14 V20 Q42.65,27.35 37,27.35"/>
<path transform="translate(373.9,0)" d="M43.2,5.65 H5.65 V47.35 H43.2 M5.65,26.5 H39"/>
<polygon transform="translate(0,0)" points="20.5,21.7 38,21.7 38,32.5 11.8,32.5" fill="#fff" stroke="none"/>
<polygon transform="translate(212.5,0)" points="21.2,21.7 40,21.7 40,33 11.8,33" fill="#fff" stroke="none"/>
<polygon transform="translate(319.7,0)" points="22.4,21.7 39,21.7 39,33 13,33" fill="#fff" stroke="none"/>
<polygon transform="translate(319.7,0)" points="13,33 27.1,33 48.3,53 34.2,53" fill="#fff" stroke="none"/>
</g>
<path d="M194.3,326.9C227.8,311.4 282.0,300.8 336.1,303.8C390.3,307.8 444.5,324.3 501.6,329.8L503.0,342.0C451.6,340.1 395.1,323.2 338.5,314.9C286.7,309.0 239.5,314.9 194.3,326.9Z" fill="#fff"/>
<path d="M560.5,323.6C581.2,314.9 597.7,303.1 609.5,289.7C603.6,309.0 585.9,324.3 561.9,333.5Z" fill="#fff"/>
<path d="M425.2,347.2C463.4,356.1 503.4,358.5 536.4,353.3C571.8,346.7 596.5,332.6 608.5,312.1C600.0,334.9 574.1,351.4 538.8,357.3C501.1,362.0 461.0,358.5 425.2,347.2Z" fill="#fff"/>
<circle cx="531.7" cy="327.9" r="26.4" fill="none" stroke="#fff" stroke-width="5.2"/>
<path d="M532.2,309.5Q544.0,311.4 548.2,322.0" fill="none" stroke="#fff" stroke-width="2.2" stroke-linecap="round"/>
</svg>
<h1 id="title">蓝飘尔全屋净水方案</h1>
<div id="sys">SYSTEMS</div>
<div class="t " style="left:612px;top:1040.2px">衣领蓬松柔软</div>
<div class="t " style="left:612px;top:1093.0px">减少洗涤剂用量</div>
<div class="t " style="left:612px;top:1145.5px">经济环保</div>
<div class="t r " style="right:2293.0px;top:1040.2px">润肤美肌</div>
<div class="t r " style="right:2293.0px;top:1093.0px">涉水设备不结垢</div>
<div class="t r " style="right:2293.0px;top:1145.5px">在家也可美容</div>
<div class="t r " style="right:1313.0px;top:1144.1px">沐浴柔润舒适</div>
<div class="t r " style="right:1313.0px;top:1197.6px">在家享受专属SPA</div>
<div class="t r " style="right:1313.0px;top:1251.3px">呵护肌肤</div>
<div class="t " style="left:2538px;top:1144.1px">直饮水<span class="cm">,</span>即热即饮</div>
<div class="t " style="left:2538px;top:1197.6px">喝水泡茶不等待</div>
<div class="t " style="left:1802.5px;top:2055.5px">淘米洗菜煲汤</div>
<div class="t " style="left:2532px;top:2055.5px">纯净水直饮</div>
<div class="t n" style="left:2030.5px;width:600px;text-align:center;top:970.0px">热饮机</div>
<div class="t n" style="left:263.5px;width:600px;text-align:center;top:2513.0px">前置过滤器</div>
<div class="t n" style="left:606.5px;width:600px;text-align:center;top:2513.0px">中央净水机</div>
<div class="t n" style="left:1007.3px;width:600px;text-align:center;top:2513.0px">中央软水机</div>
<div class="t n" style="left:1908.0px;width:600px;text-align:center;top:2611.0px">直饮水机</div>
<div class="t lg" style="left:303.5px;top:1834.1px">自来水</div>
<div class="t lg" style="left:303.5px;top:1880.1px">净水</div>
<div class="t lg" style="left:303.5px;top:1925.7px">软水</div>
<div class="t lg" style="left:303.5px;top:1971.5px">直饮水</div>
<div class="t lg" style="left:303.5px;top:2017.2px">热水</div>
</body>
</html>
